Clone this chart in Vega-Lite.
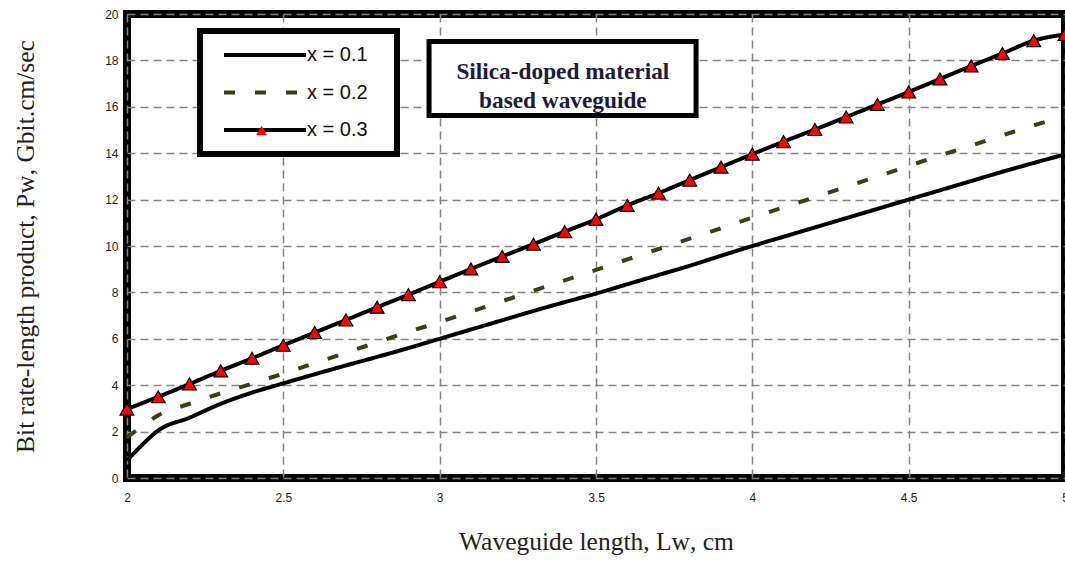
{
  "$schema": "https://vega.github.io/schema/vega-lite/v6.json",
  "width": 938,
  "height": 464,
  "autosize": {"type": "none"},
  "padding": {"left": 127, "top": 14, "right": 0, "bottom": 85},
  "background": "white",
  "config": {
    "view": {"stroke": "black", "strokeWidth": 8},
    "font": "Liberation Sans",
    "legend": {"strokeWidth": 6},
    "axis": {
      "domain": false,
      "ticks": false,
      "grid": true,
      "gridColor": "#858585",
      "gridDash": [8, 5],
      "gridWidth": 1.5,
      "labelFont": "Liberation Sans",
      "labelFontSize": 12,
      "labelColor": "#1e1e2a",
      "titleFont": "Liberation Serif",
      "titleFontWeight": "normal",
      "titleFontSize": 25.5,
      "titleColor": "#222222"
    }
  },
  "datasets": {
    "curves": [
      {"x": 2.0, "y": 0.75, "series": "x = 0.1"},
      {"x": 2.05, "y": 1.45, "series": "x = 0.1"},
      {"x": 2.1, "y": 2.05, "series": "x = 0.1"},
      {"x": 2.2, "y": 2.6, "series": "x = 0.1"},
      {"x": 2.3, "y": 3.2, "series": "x = 0.1"},
      {"x": 2.4, "y": 3.68, "series": "x = 0.1"},
      {"x": 2.5, "y": 4.08, "series": "x = 0.1"},
      {"x": 2.6, "y": 4.47, "series": "x = 0.1"},
      {"x": 2.7, "y": 4.85, "series": "x = 0.1"},
      {"x": 2.8, "y": 5.22, "series": "x = 0.1"},
      {"x": 2.9, "y": 5.6, "series": "x = 0.1"},
      {"x": 3.0, "y": 6.0, "series": "x = 0.1"},
      {"x": 3.1, "y": 6.4, "series": "x = 0.1"},
      {"x": 3.2, "y": 6.8, "series": "x = 0.1"},
      {"x": 3.3, "y": 7.2, "series": "x = 0.1"},
      {"x": 3.4, "y": 7.58, "series": "x = 0.1"},
      {"x": 3.5, "y": 7.95, "series": "x = 0.1"},
      {"x": 3.6, "y": 8.35, "series": "x = 0.1"},
      {"x": 3.7, "y": 8.75, "series": "x = 0.1"},
      {"x": 3.8, "y": 9.15, "series": "x = 0.1"},
      {"x": 3.9, "y": 9.58, "series": "x = 0.1"},
      {"x": 4.0, "y": 10.0, "series": "x = 0.1"},
      {"x": 4.1, "y": 10.4, "series": "x = 0.1"},
      {"x": 4.2, "y": 10.8, "series": "x = 0.1"},
      {"x": 4.3, "y": 11.2, "series": "x = 0.1"},
      {"x": 4.4, "y": 11.6, "series": "x = 0.1"},
      {"x": 4.5, "y": 12.0, "series": "x = 0.1"},
      {"x": 4.6, "y": 12.4, "series": "x = 0.1"},
      {"x": 4.7, "y": 12.8, "series": "x = 0.1"},
      {"x": 4.8, "y": 13.2, "series": "x = 0.1"},
      {"x": 4.9, "y": 13.58, "series": "x = 0.1"},
      {"x": 5.0, "y": 13.95, "series": "x = 0.1"},
      {"x": 2.0, "y": 1.75, "series": "x = 0.2"},
      {"x": 2.05, "y": 2.25, "series": "x = 0.2"},
      {"x": 2.1, "y": 2.7, "series": "x = 0.2"},
      {"x": 2.2, "y": 3.2, "series": "x = 0.2"},
      {"x": 2.3, "y": 3.65, "series": "x = 0.2"},
      {"x": 2.4, "y": 4.07, "series": "x = 0.2"},
      {"x": 2.5, "y": 4.5, "series": "x = 0.2"},
      {"x": 2.6, "y": 4.95, "series": "x = 0.2"},
      {"x": 2.7, "y": 5.4, "series": "x = 0.2"},
      {"x": 2.8, "y": 5.85, "series": "x = 0.2"},
      {"x": 2.9, "y": 6.3, "series": "x = 0.2"},
      {"x": 3.0, "y": 6.72, "series": "x = 0.2"},
      {"x": 3.1, "y": 7.17, "series": "x = 0.2"},
      {"x": 3.2, "y": 7.62, "series": "x = 0.2"},
      {"x": 3.3, "y": 8.07, "series": "x = 0.2"},
      {"x": 3.4, "y": 8.52, "series": "x = 0.2"},
      {"x": 3.5, "y": 8.97, "series": "x = 0.2"},
      {"x": 3.6, "y": 9.42, "series": "x = 0.2"},
      {"x": 3.7, "y": 9.87, "series": "x = 0.2"},
      {"x": 3.8, "y": 10.32, "series": "x = 0.2"},
      {"x": 3.9, "y": 10.77, "series": "x = 0.2"},
      {"x": 4.0, "y": 11.22, "series": "x = 0.2"},
      {"x": 4.1, "y": 11.67, "series": "x = 0.2"},
      {"x": 4.2, "y": 12.1, "series": "x = 0.2"},
      {"x": 4.3, "y": 12.55, "series": "x = 0.2"},
      {"x": 4.4, "y": 13.0, "series": "x = 0.2"},
      {"x": 4.5, "y": 13.45, "series": "x = 0.2"},
      {"x": 4.6, "y": 13.9, "series": "x = 0.2"},
      {"x": 4.7, "y": 14.33, "series": "x = 0.2"},
      {"x": 4.8, "y": 14.77, "series": "x = 0.2"},
      {"x": 4.9, "y": 15.2, "series": "x = 0.2"},
      {"x": 5.0, "y": 15.6, "series": "x = 0.2"},
      {"x": 2.0, "y": 2.97, "series": "x = 0.3"},
      {"x": 2.1, "y": 3.5, "series": "x = 0.3"},
      {"x": 2.2, "y": 4.05, "series": "x = 0.3"},
      {"x": 2.3, "y": 4.62, "series": "x = 0.3"},
      {"x": 2.4, "y": 5.16, "series": "x = 0.3"},
      {"x": 2.5, "y": 5.72, "series": "x = 0.3"},
      {"x": 2.6, "y": 6.27, "series": "x = 0.3"},
      {"x": 2.7, "y": 6.81, "series": "x = 0.3"},
      {"x": 2.8, "y": 7.36, "series": "x = 0.3"},
      {"x": 2.9, "y": 7.9, "series": "x = 0.3"},
      {"x": 3.0, "y": 8.46, "series": "x = 0.3"},
      {"x": 3.1, "y": 9.01, "series": "x = 0.3"},
      {"x": 3.2, "y": 9.55, "series": "x = 0.3"},
      {"x": 3.3, "y": 10.08, "series": "x = 0.3"},
      {"x": 3.4, "y": 10.62, "series": "x = 0.3"},
      {"x": 3.5, "y": 11.15, "series": "x = 0.3"},
      {"x": 3.6, "y": 11.75, "series": "x = 0.3"},
      {"x": 3.7, "y": 12.28, "series": "x = 0.3"},
      {"x": 3.8, "y": 12.84, "series": "x = 0.3"},
      {"x": 3.9, "y": 13.4, "series": "x = 0.3"},
      {"x": 4.0, "y": 13.96, "series": "x = 0.3"},
      {"x": 4.1, "y": 14.5, "series": "x = 0.3"},
      {"x": 4.2, "y": 15.02, "series": "x = 0.3"},
      {"x": 4.3, "y": 15.56, "series": "x = 0.3"},
      {"x": 4.4, "y": 16.1, "series": "x = 0.3"},
      {"x": 4.5, "y": 16.64, "series": "x = 0.3"},
      {"x": 4.6, "y": 17.2, "series": "x = 0.3"},
      {"x": 4.7, "y": 17.76, "series": "x = 0.3"},
      {"x": 4.8, "y": 18.3, "series": "x = 0.3"},
      {"x": 4.9, "y": 18.85, "series": "x = 0.3"},
      {"x": 5.0, "y": 19.12, "series": "x = 0.3"}
    ],
    "note": [
      {"x1": 2.966, "x2": 3.82, "y1": 18.81, "y2": 15.63, "cx": 3.394, "cy": 17.5, "label": "Silica-doped material\nbased waveguide"}
    ]
  },
  "layer": [
    {
      "data": {"name": "curves"},
      "mark": {"type": "line", "strokeWidth": 4, "interpolate": "monotone"},
      "encoding": {
        "x": {
          "field": "x", "type": "quantitative",
          "scale": {"domain": [2, 5], "nice": false, "zero": false},
          "axis": {"values": [2, 2.5, 3, 3.5, 4, 4.5, 5], "format": ".1~f", "title": "Waveguide length, Lᴡ, cm", "labelPadding": 14, "titlePadding": 26, "labelFlush": false}
        },
        "y": {
          "field": "y", "type": "quantitative",
          "scale": {"domain": [0, 20], "nice": false},
          "axis": {"values": [0, 2, 4, 6, 8, 10, 12, 14, 16, 18, 20], "title": "Bit rate-length product, Pᴡ, Gbit.cm/sec", "labelPadding": 9, "titlePadding": 66}
        },
        "color": {
          "field": "series", "type": "nominal",
          "scale": {"domain": ["x = 0.1", "x = 0.2", "x = 0.3"], "range": ["#000000", "#3d3d17", "#000000"]},
          "legend": {"title": null, "orient": "none", "legendX": 73, "legendY": 17, "zindex": 1, "strokeColor": "black", "fillColor": "white", "padding": 14, "symbolType": "stroke", "symbolSize": 6724, "symbolStrokeWidth": 4, "clipHeight": 20, "rowPadding": 17.5, "symbolOffset": 8, "labelOffset": -1, "labelExpr": "datum.label + '\u2800'", "labelFontSize": 20, "labelFont": "Liberation Sans", "labelColor": "#111111"}
        },
        "strokeDash": {
          "field": "series", "type": "nominal",
          "scale": {"domain": ["x = 0.1", "x = 0.2", "x = 0.3"], "range": [[1, 0], [11, 20], [1, 0]]},
          "legend": {"title": null, "orient": "none", "legendX": 73, "legendY": 17, "zindex": 1, "strokeColor": "black", "fillColor": "white", "padding": 14, "symbolType": "stroke", "symbolSize": 6724, "symbolStrokeWidth": 4, "clipHeight": 20, "rowPadding": 17.5, "symbolOffset": 8, "labelOffset": -1, "labelExpr": "datum.label + '\u2800'", "labelFontSize": 20, "labelFont": "Liberation Sans", "labelColor": "#111111"}
        }
      }
    },
    {
      "data": {"name": "curves"},
      "transform": [{"filter": "datum.series === 'x = 0.3'"}],
      "mark": {"type": "point", "filled": true, "fill": "#ff0000", "stroke": "#000000", "strokeWidth": 1.2, "size": 190, "opacity": 1},
      "encoding": {
        "x": {"field": "x", "type": "quantitative"},
        "y": {"field": "y", "type": "quantitative"},
        "shape": {
          "field": "series", "type": "nominal",
          "scale": {"domain": ["x = 0.3"], "range": ["triangle-up"]},
          "legend": {"title": null, "orient": "none", "legendX": 128.5, "legendY": 110.5, "zindex": 2, "padding": 0, "labelOpacity": 0, "symbolSize": 120, "symbolFillColor": "#ff0000", "symbolStrokeColor": "#000000", "symbolStrokeWidth": 1}
        }
      }
    },
    {
      "data": {"name": "note"},
      "mark": {"type": "rect", "fill": "white", "stroke": "black", "strokeWidth": 5},
      "encoding": {
        "x": {"field": "x1", "type": "quantitative"},
        "x2": {"field": "x2"},
        "y": {"field": "y1", "type": "quantitative"},
        "y2": {"field": "y2"}
      }
    },
    {
      "data": {"name": "note"},
      "mark": {"type": "text", "font": "Liberation Serif", "fontWeight": "bold", "fontSize": 23.3, "color": "#1b1b3f", "lineBreak": "\n", "lineHeight": 29, "align": "center", "baseline": "middle"},
      "encoding": {
        "x": {"field": "cx", "type": "quantitative"},
        "y": {"field": "cy", "type": "quantitative"},
        "text": {"field": "label"}
      }
    }
  ]
}
